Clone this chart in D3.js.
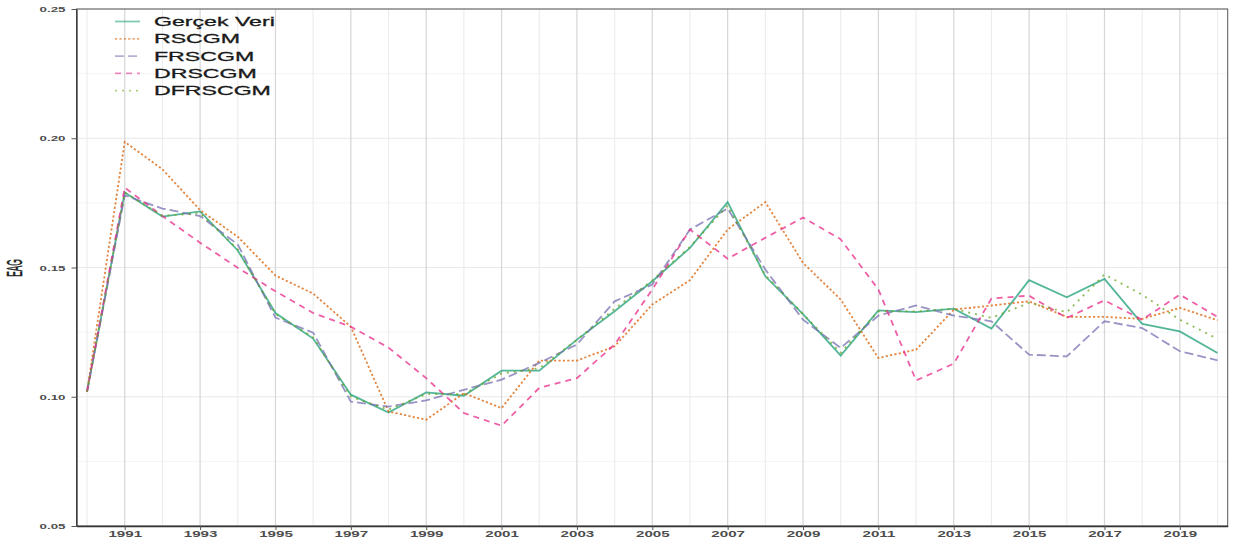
<!DOCTYPE html>
<html>
<head>
<meta charset="utf-8">
<script src="https://cdn.jsdelivr.net/npm/d3@7"></script>
<style>
  body { margin: 0; background: #fff; }
  svg { display: block; font-family: "Liberation Sans", Arial, sans-serif; }
</style>
</head>
<body>
<div id="chart"></div>
<script>
// data
var years = d3.range(1990, 2021);
var gercek = [0.102, 0.179, 0.1697, 0.1717, 0.1566, 0.1324, 0.1225, 0.1008, 0.0939, 0.1017, 0.1004,
  0.1101, 0.1101, 0.1221, 0.1331, 0.1447, 0.1576, 0.1753, 0.1466, 0.132, 0.1159,
  0.1334, 0.1327, 0.1341, 0.1264, 0.1451, 0.1385, 0.1456, 0.1282, 0.1253, 0.1169];
var rscgm = [0.102, 0.1986, 0.188, 0.1722, 0.1619, 0.1469, 0.1399, 0.1271, 0.0943, 0.0911, 0.1014,
  0.0956, 0.114, 0.114, 0.1195, 0.1357, 0.1451, 0.1647, 0.1753, 0.1518, 0.1376,
  0.115, 0.1182, 0.1337, 0.1353, 0.1369, 0.1309, 0.1309, 0.1301, 0.1344, 0.1296];
var frscgm = [0.102, 0.1779, 0.1728, 0.1699, 0.1589, 0.1306, 0.1248, 0.0981, 0.0962, 0.0986, 0.1027,
  0.1066, 0.1131, 0.1202, 0.1369, 0.1434, 0.1647, 0.1728, 0.1492, 0.1298, 0.1189,
  0.1314, 0.1353, 0.1314, 0.1292, 0.1163, 0.1156, 0.1292, 0.1266, 0.1176, 0.1141];
var drscgm = [0.102, 0.1809, 0.1699, 0.1596, 0.1499, 0.1408, 0.1324, 0.1271, 0.119, 0.1072, 0.0937,
  0.0888, 0.1034, 0.1072, 0.1202, 0.1415, 0.1647, 0.1534, 0.1615, 0.1693, 0.1609,
  0.1415, 0.1063, 0.1128, 0.138, 0.1391, 0.1305, 0.1373, 0.1298, 0.1395, 0.1309];
var dfrscgm = [0.102, 0.179, 0.170, 0.171, 0.157, 0.132, 0.123, 0.100, 0.095, 0.101, 0.101,
  0.109, 0.111, 0.122, 0.134, 0.145, 0.158, 0.174, 0.147, 0.132, 0.117,
  0.133, 0.133, 0.134, 0.1305, 0.1363, 0.1327, 0.1473, 0.1395, 0.1298, 0.1224];
var seriesNames = ["Gerçek Veri", "RSCGM", "FRSCGM", "DRSCGM", "DFRSCGM"];
var seriesValues = [gercek, rscgm, frscgm, drscgm, dfrscgm];
var colors = ["#1b9e77", "#d95f02", "#7570b3", "#e7298a", "#66a61e"];
var dashes = [null, "2.2,2.2", "9,4", "6,5", "2,5"];
var yTicks = [0.05, 0.10, 0.15, 0.20, 0.25];
var yMinor = [0.075, 0.125, 0.175, 0.225];
var xTicks = d3.range(1991, 2021, 2);
var xMinor = d3.range(1990, 2021, 2);

var width = 1233, height = 549;
var sx = 1.78; // the reference's text is stretched sideways
var pLeft = 76.5, pRight = 1227.7, pTop = 9, pBottom = 526;

var svg = d3.select("#chart").append("svg")
  .attr("width", width)
  .attr("height", height);

var x = d3.scaleLinear().domain([1989.72, 2020.27]).range([pLeft, pRight]);
var y = d3.scaleLinear().domain([0.05, 0.25]).range([pBottom, pTop]);

// grid
var grid = svg.append("g");
grid.selectAll(".ymin").data(yMinor).enter().append("line")
  .attr("x1", pLeft).attr("x2", pRight)
  .attr("y1", function(d){ return y(d); }).attr("y2", function(d){ return y(d); })
  .style("stroke", "#f4f4f4").style("stroke-width", 1);
grid.selectAll(".ymaj").data(yTicks).enter().append("line")
  .attr("x1", pLeft).attr("x2", pRight)
  .attr("y1", function(d){ return y(d); }).attr("y2", function(d){ return y(d); })
  .style("stroke", "#e8e8e8").style("stroke-width", 1.1);
grid.selectAll(".xmin").data(xMinor).enter().append("line")
  .attr("y1", pTop).attr("y2", pBottom)
  .attr("x1", function(d){ return x(d); }).attr("x2", function(d){ return x(d); })
  .style("stroke", "#ececec").style("stroke-width", 1.1);
grid.selectAll(".xmaj").data(xTicks).enter().append("line")
  .attr("y1", pTop).attr("y2", pBottom)
  .attr("x1", function(d){ return x(d); }).attr("x2", function(d){ return x(d); })
  .style("stroke", "#d6d6d6").style("stroke-width", 1.2);

// lines
var line = d3.line()
  .x(function(d, i){ return x(years[i]); })
  .y(function(d){ return y(d); });
svg.append("g").selectAll("path")
  .data(seriesValues)
  .enter().append("path")
  .attr("d", line)
  .style("fill", "none")
  .style("stroke", function(d, i){ return colors[i]; })
  .style("stroke-opacity", 0.75)
  .style("stroke-width", 1.8)
  .style("stroke-dasharray", function(d, i){ return dashes[i]; });

// panel border
svg.append("rect")
  .attr("x", pLeft).attr("y", pTop)
  .attr("width", pRight - pLeft).attr("height", pBottom - pTop)
  .style("fill", "none").style("stroke", "#555").style("stroke-width", 1);

// axes
var xAxis = svg.append("g")
  .attr("transform", "translate(0," + pBottom + ")")
  .call(d3.axisBottom(x).tickValues(xTicks).tickFormat(d3.format("d")).tickSize(4).tickSizeOuter(0));
xAxis.select(".domain").style("stroke", "#333").style("stroke-width", 1.3);
xAxis.selectAll(".tick line").style("stroke", "#555");
xAxis.selectAll("text")
  .attr("y", 0).attr("dy", null)
  .attr("transform", "translate(0,11) scale(" + sx + ",1)")
  .style("font-size", "8.5px").style("fill", "#4d4d4d").style("font-weight", "bold");

var yAxis = svg.append("g")
  .attr("transform", "translate(" + pLeft + ",0)")
  .call(d3.axisLeft(y).tickValues(yTicks).tickFormat(d3.format(".2f")).tickSize(5).tickSizeOuter(0));
yAxis.select(".domain").style("stroke", "#333").style("stroke-width", 1.3);
yAxis.selectAll(".tick line").style("stroke", "#555");
yAxis.selectAll("text")
  .attr("x", 0).attr("dy", "0.36em")
  .attr("transform", "translate(-11,0) scale(" + sx + ",1)")
  .style("font-size", "7.5px").style("fill", "#4d4d4d").style("font-weight", "bold");

// y title
svg.append("text")
  .attr("transform", "translate(22,268) scale(1.78,0.7) rotate(-90)")
  .attr("text-anchor", "middle")
  .style("font-size", "12px").style("fill", "#1a1a1a")
  .style("stroke", "#1a1a1a").style("stroke-width", 0.3)
  .text("EAG");

// legend
var legend = svg.append("g");
var rows = legend.selectAll("g").data(seriesNames).enter().append("g")
  .attr("transform", function(d, i){ return "translate(0," + (21.5 + i * 17.3) + ")"; });
rows.append("line")
  .attr("x1", 115).attr("x2", 140)
  .style("stroke", function(d, i){ return colors[i]; })
  .style("stroke-opacity", 0.55)
  .style("stroke-width", 1.8)
  .style("stroke-dasharray", function(d, i){ return dashes[i]; });
rows.append("text")
  .attr("transform", "translate(154,4.6) scale(" + sx + ",1)")
  .style("font-size", "13px").style("fill", "#1a1a1a")
  .style("stroke", "#1a1a1a").style("stroke-width", 0.3)
  .text(function(d){ return d; });
</script>
</body>
</html>
